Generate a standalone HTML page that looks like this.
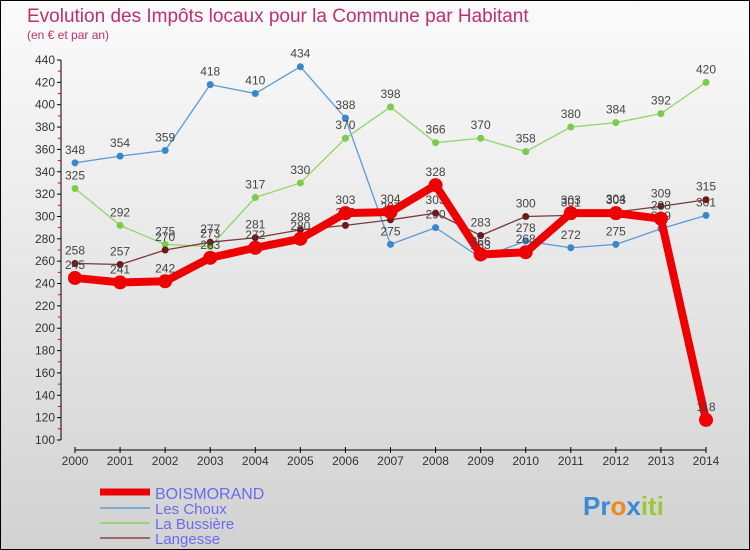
<!DOCTYPE html>
<html><head><meta charset="utf-8"><style>
body{margin:0;width:750px;height:550px;overflow:hidden;font-family:"Liberation Sans",sans-serif}
svg{display:block}
</style></head><body>
<svg width="750" height="550" viewBox="0 0 750 550" xmlns="http://www.w3.org/2000/svg">
<defs><linearGradient id="bg" x1="0" y1="0" x2="0" y2="1"><stop offset="0" stop-color="#fbfbfb"/><stop offset="1" stop-color="#d2d2d2"/></linearGradient></defs>
<rect x="0.5" y="0.5" width="749" height="549" fill="url(#bg)" stroke="#000"/>
<text x="27" y="22" font-size="19" fill="#c0306a">Evolution des Impôts locaux pour la Commune par Habitant</text>
<text x="27" y="39" font-size="12" fill="#c0306a">(en € et par an)</text>
<g id="axes"></g>
<g id="series"></g>
<g>
<line x1="100" y1="492" x2="150" y2="492" stroke="#e00" stroke-width="7"/>
<text x="155" y="499" font-size="16" fill="#6a6af0">BOISMORAND</text>
<line x1="100" y1="508" x2="150" y2="508" stroke="#7aaad0" stroke-width="2"/>
<text x="155" y="514" font-size="15" fill="#6a6af0">Les Choux</text>
<line x1="100" y1="523" x2="150" y2="523" stroke="#9ad37a" stroke-width="2"/>
<text x="155" y="529" font-size="15" fill="#6a6af0">La Bussière</text>
<line x1="100" y1="538" x2="150" y2="538" stroke="#9a6a6a" stroke-width="2"/>
<text x="155" y="544" font-size="15" fill="#6a6af0">Langesse</text>
</g>
<g font-size="26" font-weight="bold">
<text x="583" y="515"><tspan fill="#3a8ad8">Pr</tspan><tspan fill="#f08a20">o</tspan><tspan fill="#3a8ad8">x</tspan><tspan fill="#9ac83a">iti</tspan></text>
</g>
</svg>
<script>
const years=[2000,2001,2002,2003,2004,2005,2006,2007,2008,2009,2010,2011,2012,2013,2014];
const yTicks=[100,120,140,160,180,200,220,240,260,280,300,320,340,360,380,400,420,440];
const boismorand=[245,241,242,263,272,280,303,304,328,266,268,303,303,298,118];
const lesChoux=[348,354,359,418,410,434,388,275,290,263,278,272,275,289,301];
const laBussiere=[325,292,275,273,317,330,370,398,366,370,358,380,384,392,420];
const langesse=[258,257,270,277,281,288,292,297,303,283,300,301,304,309,315];
const NS="http://www.w3.org/2000/svg";
const xs=i=>75+i*(706-75)/(years.length-1);
const ys=v=>440-(v-100)*380/340;
function mk(t,a,p){const e=document.createElementNS(NS,t);for(const k in a)e.setAttribute(k,a[k]);p.appendChild(e);return e;}
const ax=document.getElementById('axes');
const yl=mk('line',{x1:61,y1:ys(440),x2:61,y2:ys(100),stroke:'#000'},ax);


yTicks.forEach(v=>{
 mk('line',{x1:57,x2:61,y1:ys(v),y2:ys(v),stroke:'#000'},ax);
 if(v<440) mk('line',{x1:58,x2:61,y1:ys(v+10),y2:ys(v+10),stroke:'#e00'},ax);
 const t=mk('text',{x:55,y:ys(v)+4,'font-size':12,'text-anchor':'end',fill:'#333'},ax);
 t.textContent=v;
 
 
});
const xl=mk('line',{x1:xs(0),y1:450,x2:xs(14),y2:450,stroke:'#000'},ax);


years.forEach((y,i)=>{
 mk('line',{x1:xs(i),x2:xs(i),y1:447,y2:453,stroke:'#000'},ax);
 const t=mk('text',{x:xs(i),y:465,'font-size':12,'text-anchor':'middle',fill:'#333'},ax);
 t.textContent=y;
 
 
});
const sg=document.getElementById('series');
function series(d,name,col,pt,w,r){
 const g=mk('g',{},sg);
 
 
 const pl=mk('polyline',{points:d.map((v,i)=>xs(i)+','+ys(v)).join(' '),fill:'none',stroke:col,'stroke-width':w,'stroke-linejoin':'round'},g);
 
 
 d.forEach((v,i)=>{
  const c=mk('circle',{cx:xs(i),cy:ys(v),r:r,fill:pt},g);
  
  
  const t=mk('text',{x:xs(i),y:ys(v)-9,'font-size':12,'text-anchor':'middle',fill:'#444'},g);
  t.textContent=v;
  
  
 });
}
series(lesChoux,'les-choux','#5a9ad6','#3a88cc',1.3,3.5);
series(laBussiere,'la-bussiere','#8fd66a','#7acc4a',1.3,3.5);
series(langesse,'langesse','#7a3a3a','#6a1a1a',1.3,3.5);
series(boismorand,'boismorand','#ee0000','#ee0000',8,7);
</script>
</body></html>
